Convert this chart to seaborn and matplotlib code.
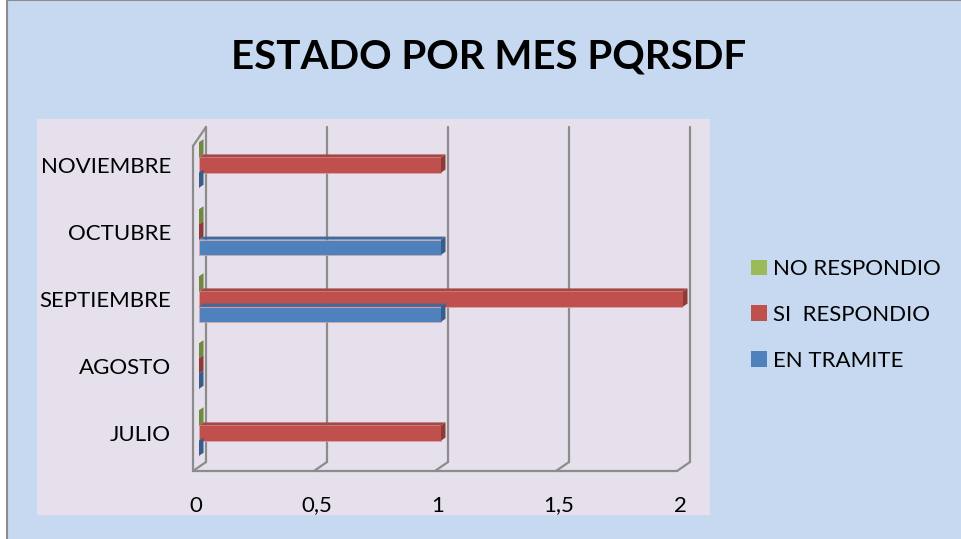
import numpy as np
import pandas as pd
import matplotlib
matplotlib.use("Agg")
import matplotlib.pyplot as plt
import matplotlib.transforms as mtransforms
from matplotlib.patches import Rectangle, Polygon, Patch
import seaborn as sns

# ---------------- data ----------------
months = ["JULIO", "AGOSTO", "SEPTIEMBRE", "OCTUBRE", "NOVIEMBRE"]
en_tramite = [0, 0, 1, 1, 0]
si_respondio = [1, 0, 2, 0, 1]
no_respondio = [0, 0, 0, 0, 0]
series_names = ["NO RESPONDIO", "SI  RESPONDIO", "EN TRAMITE"]
x_ticks = [0, 0.5, 1, 1.5, 2]
x_tick_labels = ["0", "0,5", "1", "1,5", "2"]
title = "ESTADO POR MES PQRSDF"

colors = {"NO RESPONDIO": "#9BBB59", "SI  RESPONDIO": "#C0504D", "EN TRAMITE": "#4F81BD"}
side_colors = {"NO RESPONDIO": "#6F8A3C", "SI  RESPONDIO": "#8E3A37", "EN TRAMITE": "#385D8A"}
top_colors = {"NO RESPONDIO": "#86A24B", "SI  RESPONDIO": "#A84643", "EN TRAMITE": "#41699C"}

df = pd.DataFrame({
    "Mes": months * 3,
    "Estado": [series_names[0]] * 5 + [series_names[1]] * 5 + [series_names[2]] * 5,
    "Valor": no_respondio + si_respondio + en_tramite,
})

W, H = 961, 539
sns.set_theme(style="white")
plt.rcParams["font.family"] = ["Lato"]

fig = plt.figure(figsize=(W / 100, H / 100), dpi=100)
fig.patch.set_facecolor("white")

def fx(px):
    return px / W

def fy(py):
    return 1 - py / H

# chart background with border
fig.patches.append(Rectangle((fx(7), fy(560)), fx(1000), 560 / H, transform=fig.transFigure,
                             facecolor="#C6D9F0", edgecolor="#8C8C8C", linewidth=1.5, zorder=-2))
# plot area
fig.patches.append(Rectangle((fx(37), fy(515)), fx(710 - 37), (515 - 119) / H, transform=fig.transFigure,
                             facecolor="#E6E0EC", edgecolor="none", zorder=-1))

ax = fig.add_axes([fx(199), fy(466.5), fx(683 - 199), (466.5 - 131.5) / H])
ax.set_facecolor("none")
ax.set_zorder(2)

sns.barplot(data=df, x="Valor", y="Mes", hue="Estado", order=months[::-1],
            hue_order=series_names, palette=colors, saturation=1, width=0.68, orient="h",
            errorbar=None, ax=ax, legend=False, edgecolor="#D9A8A8", linewidth=0.5, zorder=3)

ax.set_xlim(0, 2)
ax.set_ylim(4.5, -0.5)
for s in ax.spines.values():
    s.set_visible(False)
ax.grid(False)
ax.set_xlabel("")
ax.set_ylabel("")

# ---- 3D-like frame ----
gray = "#8C8C8C"
lw = 1.6
front = mtransforms.ScaledTranslation(-6 / 100, -4.5 / 100, fig.dpi_scale_trans)
back = mtransforms.ScaledTranslation(7 / 100, 4.5 / 100, fig.dpi_scale_trans)
blend = mtransforms.blended_transform_factory(ax.transData, ax.transAxes)

for t in x_ticks:
    ax.plot([t, t], [0, 1], transform=blend + back, color=gray, lw=lw, zorder=1, clip_on=False)
ax.plot([x_ticks[0], x_ticks[-1]], [0, 0], transform=blend + front, color=gray, lw=lw, zorder=1, clip_on=False)
for t in x_ticks:
    p1 = (blend + front).transform((t, 0))
    p2 = (blend + back).transform((t, 0))
    ax.plot([p1[0], p2[0]], [p1[1], p2[1]], transform=None, color=gray, lw=lw, zorder=1, clip_on=False)
ax.plot([0, 0], [0, 0.97], transform=blend + front, color=gray, lw=lw, zorder=1, clip_on=False)
p1 = (blend + front).transform((0, 0.97))
p2 = (blend + back).transform((0, 1))
ax.plot([p1[0], p2[0]], [p1[1], p2[1]], transform=None, color=gray, lw=lw, zorder=1, clip_on=False)

# ---- 3D bar faces ----
fig.canvas.draw()
dx, dy = 4.5, 3.0  # px depth
inv = ax.transData.inverted()
rev = {}
for name in series_names:
    rev[tuple(np.round(matplotlib.colors.to_rgba(colors[name]), 2))] = name
for p in list(ax.patches):
    fc = tuple(np.round(p.get_facecolor(), 2))
    name = rev.get(fc)
    if name is None:
        continue
    x0, y0 = p.get_x(), p.get_y()
    w, h = p.get_width(), p.get_height()
    tl = ax.transData.transform((x0, y0))
    tr = ax.transData.transform((x0 + w, y0))
    br = ax.transData.transform((x0 + w, y0 + h))
    side = [tr, tr + [dx, dy], br + [dx, dy], br]
    top = [tl, tl + [dx, dy], tr + [dx, dy], tr]
    ax.add_patch(Polygon(inv.transform(np.array(side)), closed=True, facecolor=side_colors[name],
                         edgecolor="none", zorder=3.5, clip_on=False))
    if w > 0:
        ax.add_patch(Polygon(inv.transform(np.array(top)), closed=True, facecolor=top_colors[name],
                             edgecolor="none", zorder=3.5, clip_on=False))

# x tick labels placed along the front floor edge
ax.set_xticks(x_ticks)
ax.set_xticklabels([""] * len(x_ticks))
ax.tick_params(axis="x", length=0)
lab_off = mtransforms.ScaledTranslation(-3 / 100, -45 / 100, fig.dpi_scale_trans)
for t, s in zip(x_ticks, x_tick_labels):
    ax.text(t, 0, s, transform=blend + lab_off, ha="center", va="baseline",
            fontsize=16, color="black", clip_on=False)
ax.tick_params(axis="y", length=0, pad=20, labelsize=16, labelcolor="black")

fig.text(fx(489), fy(57), title, ha="center", va="center", fontsize=29, fontweight="bold", color="black")

handles = [Patch(facecolor=colors[n], edgecolor="none") for n in series_names]
leg = fig.legend(handles, series_names, loc="center left", bbox_to_anchor=(fx(740), fy(315)),
                 frameon=False, fontsize=16, handlelength=0.7, handleheight=0.7, handletextpad=0.3,
                 labelspacing=1.15, borderpad=0)
for t in leg.get_texts():
    t.set_color("black")

fig.savefig("out.png", dpi=100)
